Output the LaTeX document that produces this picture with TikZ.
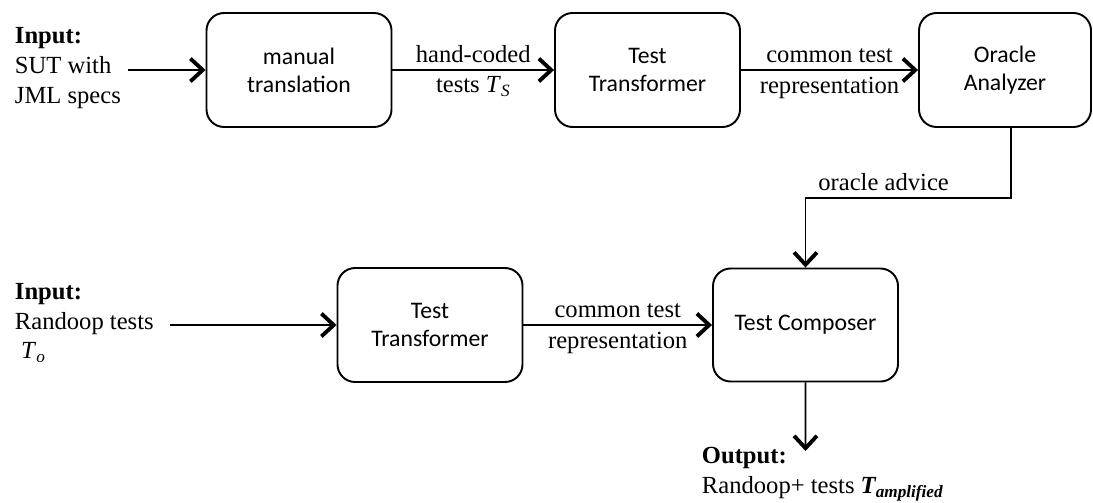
\documentclass[tikz,border=0pt]{standalone}
\usepackage{fontspec}
\setmainfont{Liberation Serif}
\newfontfamily\boxfont{Carlito}
\usetikzlibrary{arrows.meta,positioning}

\begin{document}
\begin{tikzpicture}[->,>={Straight Barb[length=7pt,width=13pt,line width=2.2pt]},line width=1.1pt,auto,node distance=7cm,font=\fontsize{14}{17}\selectfont]
        \tikzstyle{block}=[draw,rounded corners=10pt,minimum width=3.7cm,minimum height=2.28cm,align=center,font=\boxfont\fontsize{13.5}{16}\selectfont]
        \tikzstyle{info}=[align=left,inner sep=0pt]

        \useasboundingbox (0,0) rectangle (21.86,-10.04);

        \node[block]                    (M)  at (5.98,-1.40)                  {manual\\translation};
        \node[block]                    (T1) [right of=M, node distance=6.97cm]  {Test\\Transformer};
        \node[block,minimum width=3.44cm] (O) [right of=T1, node distance=7.15cm] {Oracle\\Analyzer};
        \node[block]                    (T2) at (8.6,-6.5)                    {Test\\Transformer};
        \node[block,minimum height=2.26cm] (C) [right of=T2, node distance=7.51cm] {Test Composer};

        \node[info,anchor=west]       (in1) at (0.28,-1.36) {\textbf{Input:}\\SUT with\\JML specs};
        \node[info,anchor=west]       (in2) at (0.28,-6.46) {\textbf{Input:}\\Randoop tests\\\ \textit{T}\textsubscript{\textit{o}}};
        \node[info,anchor=south west] (out) at (14.02,-10.04) {\textbf{Output:}\\Randoop+ tests \textbf{\textit{T\textsubscript{amplified}}}};

        \coordinate (s1) at (2.56,-1.40);
        \coordinate (s2) at (3.40,-6.50);
        \coordinate (e1) at (16.11,-9.02);

        \path (s1) edge (M)
              (M)  edge node {hand-coded} node[swap] {tests \textit{T}\textsubscript{\textit{S}}} (T1)
              (T1) edge node {common test} node[swap] {representation} (O)
              (s2) edge (T2)
              (T2) edge node {common test} node[swap] {representation} (C)
              (C)  edge (e1);

        \draw ([xshift=0.12cm]O.south) -- ++(0,-1.40) -| node[pos=0.31,above] {oracle advice} (C.north);
      \end{tikzpicture}
\end{document}
